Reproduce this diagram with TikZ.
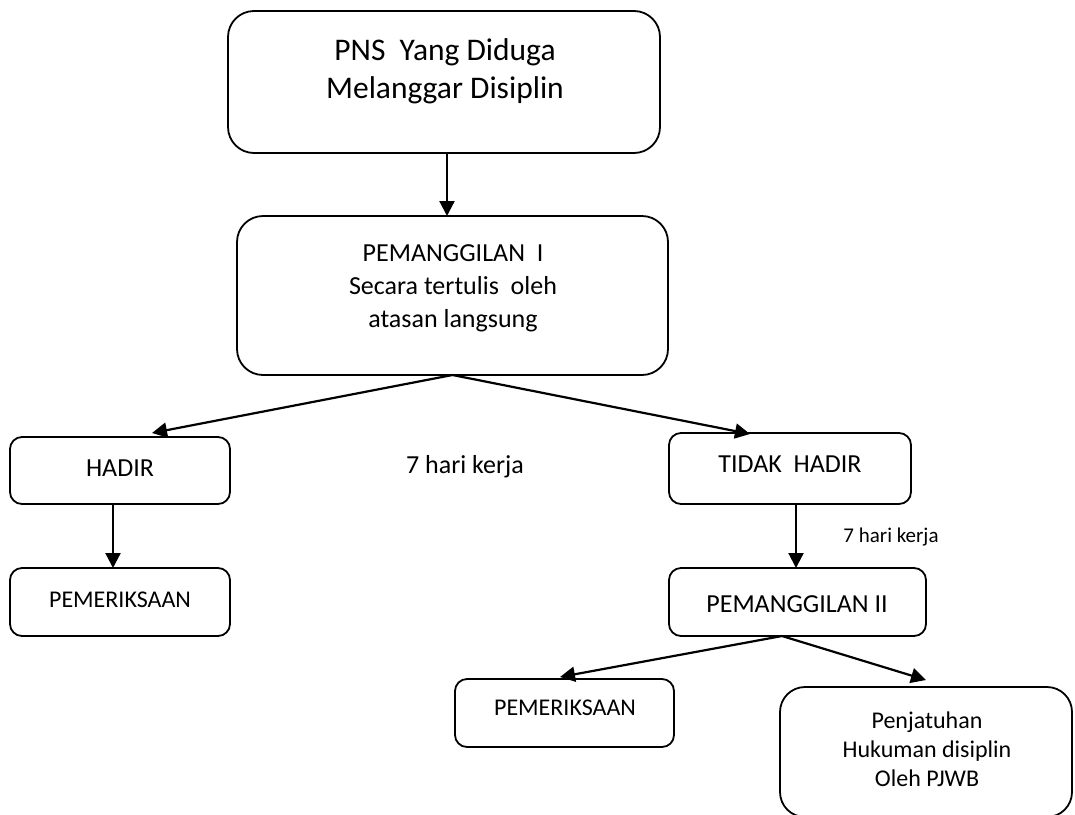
\documentclass[tikz,border=0pt]{standalone}
\usepackage{fontspec}
\setmainfont{Carlito}
\usetikzlibrary{arrows.meta}
\begin{document}
\begin{tikzpicture}[x=1pt,y=-1pt,
  box/.style={draw=black,line width=1.8pt,inner sep=0pt,outer sep=0pt,rounded corners=#1},
  box/.default=12pt,
  conn/.style={line width=2.2pt,-{Triangle[length=15pt,width=15pt]}},
  txt/.style={anchor=base,inner sep=0pt,font=\fontsize{26}{31}\selectfont},
  txtbig/.style={txt,font=\fontsize{31.5}{38}\selectfont},
  txtmid/.style={txt,font=\fontsize{24}{29}\selectfont},
  txtsmall/.style={txt,font=\fontsize{21}{25}\selectfont}]
\useasboundingbox (0,0) rectangle (1075,814);
\clip (0,0) rectangle (1075,814);
% boxes
\node[box=26pt,minimum width=432pt,minimum height=142pt] (box1) at (444,82) {};
\node[box=26pt,minimum width=431pt,minimum height=159pt] (box2) at (452.5,295.5) {};
\node[box,minimum width=220pt,minimum height=67pt] (hadir) at (120,470.5) {};
\node[box,minimum width=220pt,minimum height=68pt] (pem1) at (120,602) {};
\node[box,minimum width=242pt,minimum height=71pt] (tidak) at (790,468.5) {};
\node[box,minimum width=257pt,minimum height=68pt] (pii) at (797.5,602) {};
\node[box,minimum width=219pt,minimum height=68pt] (pem2) at (564.5,713) {};
\node[box=25pt,minimum width=292pt,minimum height=130pt] (pen) at (926,752) {};
% texts
\node[txtbig] (b1a) at (445,60) {PNS\ \ Yang Diduga};
\node[txtbig] (b1b) at (445,98) {Melanggar Disiplin};
\node[txt] (b2a) at (453,261) {PEMANGGILAN\ \ I};
\node[txt] (b2b) at (453,294) {Secara tertulis\ \ oleh};
\node[txt] (b2c) at (453,327) {atasan langsung};
\node[txt] (th) at (120,476) {HADIR};
\node[txtmid] (tp1) at (120,607) {PEMERIKSAAN};
\node[txt] (mid7) at (465,473) {7 hari kerja};
\node[txt] (tt) at (790,472) {TIDAK\ \ HADIR};
\node[txtsmall] (sm7) at (891,542) {7 hari kerja};
\node[txt] (tpii) at (797,612) {PEMANGGILAN II};
\node[txtmid] (tp2) at (565,715) {PEMERIKSAAN};
\node[txtmid] (pa) at (927,728) {Penjatuhan};
\node[txtmid] (pb) at (927,757) {Hukuman disiplin};
\node[txtmid] (pc) at (927,786) {Oleh PJWB};
% arrow tips
\coordinate (thadir) at (152,433);
\coordinate (ttidak) at (750,434);
\coordinate (tpem2) at (560,677);
\coordinate (tpen) at (926,680);
% connectors
\draw[conn] ([xshift=3pt]box1.south) -- ([xshift=-5.5pt]box2.north);
\draw[conn] (box2.south) -- (thadir);
\draw[conn] (box2.south) -- (ttidak);
\draw[conn] ([xshift=-7pt]hadir.south) -- ([xshift=-7pt]pem1.north);
\draw[conn] ([xshift=6pt]tidak.south) -- ([xshift=-1.5pt]pii.north);
\draw[conn] ([xshift=-15.5pt]pii.south) -- (tpem2);
\draw[conn] ([xshift=-15.5pt]pii.south) -- (tpen);
\end{tikzpicture}
\end{document}
